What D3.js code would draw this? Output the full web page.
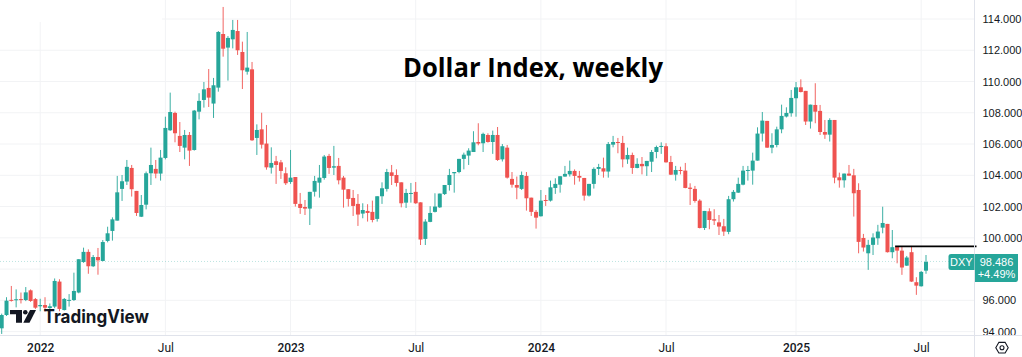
<!DOCTYPE html>
<html>
<head>
<meta charset="utf-8">
<script src="https://cdn.jsdelivr.net/npm/d3@7/dist/d3.min.js"></script>
<style>
html,body{margin:0;padding:0;background:#fff;overflow:hidden}
svg{display:block}
.tick text{fill:#131722}
</style>
</head>
<body>
<div id="chart"></div>
<script>
//weekly candles
var opens=[94.21,95.06,96.03,96.02,96.08,96.02,96.64,96.08,95.62,95.7,
95.51,95.6,97.2,95.38,95.98,96.02,96.5,98.45,99.1,98.18,
98.77,98.52,99.8,100.44,101.1,103.13,103.6,104.47,103.0,101.35,
102.12,104.13,104.41,104.11,105.11,106.88,107.99,106.52,105.77,106.58,
105.62,108.07,108.82,109.59,108.59,109.61,113.04,112.17,112.7,113.23,
111.89,110.63,110.78,106.39,106.94,106.03,104.49,104.9,104.83,104.13,
103.57,103.89,102.17,101.97,101.87,102.95,103.53,103.83,105.24,104.49,
104.6,103.85,103.11,102.55,102.17,101.55,101.72,101.66,101.21,102.66,
103.13,104.19,104.02,103.55,102.25,102.85,102.94,102.27,99.93,101.02,
101.66,101.95,102.8,103.38,104.13,104.21,105.05,105.26,105.49,106.13,
106.05,106.58,106.13,106.58,105.02,105.77,103.77,103.38,103.13,103.96,
102.57,101.66,101.38,102.42,102.38,103.19,103.4,103.92,104.06,104.28,
103.96,103.83,102.7,103.45,104.41,104.45,104.24,105.96,106.13,106.07,
105.02,105.3,104.47,104.73,104.58,104.87,105.49,105.81,105.86,104.85,
104.04,104.34,104.3,103.21,103.13,102.38,100.63,101.7,101.19,100.99,
100.74,100.38,102.47,102.89,103.4,104.3,104.3,104.94,106.67,107.48,
105.77,105.94,106.94,107.76,107.97,108.93,109.63,109.4,107.44,108.5,
108.12,106.77,106.6,107.54,103.87,103.68,104.11,104.0,103.06,99.99,
99.01,99.55,99.97,100.65,100.89,99.08,99.44,99.18,98.22,99.08,
97.16,96.9,97.9];
var closes=[95.06,95.98,95.98,96.07,96.02,96.51,95.96,95.53,95.7,95.53,
95.62,97.24,95.45,96.09,96.03,96.6,98.63,99.1,98.18,98.77,
98.56,99.73,100.29,101.18,102.91,103.62,104.54,103.11,101.59,102.1,
104.13,104.66,104.11,105.13,107.03,108.05,106.69,105.88,106.58,105.58,
108.14,108.76,109.5,108.97,109.76,113.17,112.1,112.79,113.3,112.0,
110.72,110.89,106.24,106.9,105.96,104.51,104.79,104.66,104.28,103.49,
103.85,102.17,101.91,101.87,102.94,103.64,103.85,105.2,104.47,104.58,
103.68,103.08,102.49,102.04,101.49,101.78,101.59,101.14,102.66,103.17,
104.21,103.96,103.51,102.21,102.87,102.87,102.21,99.89,101.04,101.59,
102.0,102.83,103.38,104.02,104.21,105.05,105.32,105.58,106.11,106.03,
106.65,106.13,106.58,104.98,105.86,103.85,103.4,103.21,104.02,102.53,
101.66,101.29,102.38,102.38,103.23,103.45,103.94,104.09,104.28,103.96,
103.85,102.7,103.45,104.41,104.53,104.24,106.0,106.13,106.09,105.02,
105.3,104.47,104.73,104.58,104.92,105.49,105.81,105.88,104.83,104.04,
104.34,104.28,103.19,103.13,102.36,100.63,101.72,101.14,101.1,100.72,
100.4,102.47,102.94,103.45,104.3,104.34,104.94,106.67,107.5,105.77,
105.94,106.94,107.8,107.99,108.95,109.63,109.33,107.44,108.52,108.07,
106.77,106.6,107.54,103.85,103.68,104.11,103.98,102.85,99.74,99.38,
99.55,100.02,100.4,100.95,99.08,99.4,99.18,98.1,98.74,97.2,
96.94,97.82,98.46];
var highs=[95.15,96.2,96.92,96.7,96.5,96.85,96.7,96.15,96.1,96.2,
95.8,97.4,97.35,96.15,96.4,97.77,98.63,99.37,99.26,98.9,
99.35,99.86,100.71,101.31,103.96,104.02,104.98,104.66,103.0,102.74,
104.24,105.77,104.98,105.62,107.75,109.29,108.07,107.41,106.9,106.77,
108.18,109.25,109.97,110.8,110.23,113.23,114.77,112.91,113.94,113.94,
112.55,113.17,111.25,107.26,108.0,107.22,105.79,105.24,104.98,104.51,
105.62,103.89,102.87,102.42,102.94,103.96,104.66,105.3,105.37,105.88,
105.11,103.96,103.11,103.06,102.8,102.21,102.15,102.38,102.66,103.55,
104.41,104.66,104.38,103.55,103.13,103.51,103.57,102.27,101.19,102.02,
102.85,102.83,103.38,104.41,104.21,105.05,105.45,105.73,106.82,107.33,
106.73,106.69,106.86,107.09,106.0,105.94,104.21,103.92,104.24,104.21,
102.57,101.78,103.06,102.74,103.66,103.81,103.94,104.6,104.94,104.38,
104.28,103.83,103.45,104.51,104.73,105.13,106.13,106.52,106.39,106.52,
105.77,105.45,105.09,105.17,104.92,105.62,105.9,106.11,106.05,105.24,
104.6,104.55,104.79,103.49,103.32,102.47,101.72,101.89,101.83,101.46,
101.21,102.68,103.06,103.85,104.6,104.6,105.45,107.07,108.05,107.48,
106.69,107.11,108.52,108.35,109.46,109.97,110.14,109.4,108.52,109.89,
108.5,107.54,107.65,107.54,104.17,104.11,104.66,104.41,103.49,100.25,
99.87,100.29,100.83,101.99,100.89,100.5,99.44,99.44,98.84,99.48,
97.48,97.88,98.9];
var lows=[93.85,95.0,95.92,95.55,95.8,95.95,95.9,95.45,95.3,95.28,
95.3,95.5,95.3,95.35,95.6,95.96,96.45,98.4,97.7,98.13,
97.64,98.5,99.71,99.82,101.1,102.36,103.38,102.64,101.4,101.33,
101.82,103.38,103.81,103.66,105.02,106.84,106.11,105.49,105.02,104.6,
105.58,107.58,108.33,108.37,107.67,109.35,111.59,110.06,112.12,111.7,
109.52,110.44,106.2,105.3,105.71,104.36,104.11,103.45,103.77,103.38,
103.45,102.0,101.53,101.46,100.82,102.64,102.57,103.72,104.09,104.02,
103.42,101.93,102.0,101.4,100.76,101.25,101.04,100.99,101.04,102.17,
102.96,103.38,103.28,101.95,101.91,102.25,102.17,99.54,99.54,101.0,
101.62,101.91,102.74,103.02,102.89,104.13,104.38,104.66,105.49,105.92,
105.49,106.09,105.37,104.92,104.88,103.79,103.21,102.47,103.06,101.74,
101.4,100.59,101.36,102.04,102.32,102.81,102.89,103.9,103.92,103.4,
103.6,102.38,102.64,103.15,104.02,103.85,103.85,105.79,105.41,104.51,
104.73,104.09,104.45,104.06,103.96,104.21,105.09,105.37,104.81,104.02,
103.66,104.06,103.17,102.1,102.25,100.6,100.5,100.55,100.82,100.18,
100.12,100.23,102.32,102.87,103.36,103.66,103.4,104.94,106.16,105.75,
105.41,105.79,106.69,107.7,107.75,107.75,109.3,107.22,106.99,107.33,
106.58,106.33,106.16,103.49,103.21,103.21,103.95,101.36,99.01,99.12,
97.95,98.9,99.55,100.29,99.06,98.69,98.37,97.63,98.2,97.18,
96.35,96.88,97.7];

var priceTicks=[94,96,98,100,102,104,106,108,110,112,114];
var timeTickBars=[8,34,60,86,112,138,165,191];   //bar index of each time label
var timeTickLabels=["2022","Jul","2023","Jul","2024","Jul","2025","Jul"];

var lastPrice=98.486;
var resistance=99.45;
var resistanceStartBar=186;

var width=1022,height=357;
var axisX=974.5,axisY=335.5;
var green="#26a69a",red="#ef5350",gridCol="#f2f3f5",axisCol="#e0e3eb";
var font="'Liberation Sans',Arial,sans-serif";

var x=d3.scaleLinear().domain([0,opens.length-1]).range([1.7,926]);
var y=d3.scaleLinear().domain([94,114]).range([331.6,19]);

var svg=d3.select("#chart").append("svg")
	.attr("width",width)
	.attr("height",height)
	.style("background","#fff");

//grid
svg.append("g").selectAll("line").data(priceTicks).enter().append("line")
	.attr("x1",0).attr("x2",axisX)
	.attr("y1",function(d){return y(d);}).attr("y2",function(d){return y(d);})
	.attr("stroke",gridCol);
svg.append("g").selectAll("line").data(timeTickBars).enter().append("line")
	.attr("x1",function(d){return x(d);}).attr("x2",function(d){return x(d);})
	.attr("y1",0).attr("y2",axisY)
	.attr("stroke",gridCol);
//the corner is blanked out in the picture
svg.append("rect").attr("x",0).attr("y",0).attr("width",162).attr("height",22).attr("fill","#fff");

//last price dotted line
svg.append("line")
	.attr("x1",0).attr("x2",axisX)
	.attr("y1",y(lastPrice)).attr("y2",y(lastPrice))
	.attr("stroke",green).attr("stroke-opacity",0.3)
	.attr("stroke-dasharray","1 2");

//candles
var bars=d3.range(opens.length);
function barCol(i){return closes[i]>=opens[i]?green:red;}

svg.append("g").selectAll("line").data(bars).enter().append("line")
	.attr("x1",function(i){return x(i);}).attr("x2",function(i){return x(i);})
	.attr("y1",function(i){return y(highs[i]);}).attr("y2",function(i){return y(lows[i]);})
	.attr("stroke",barCol).attr("stroke-width",0.9);

svg.append("g").selectAll("rect").data(bars).enter().append("rect")
	.attr("x",function(i){return x(i)-2;})
	.attr("width",4)
	.attr("y",function(i){return y(Math.max(opens[i],closes[i]));})
	.attr("height",function(i){return Math.max(1,Math.abs(y(opens[i])-y(closes[i])));})
	.attr("fill",barCol);

//black level line
svg.append("line")
	.attr("x1",x(resistanceStartBar)-2).attr("x2",976.5)
	.attr("y1",y(resistance)).attr("y2",y(resistance))
	.attr("stroke","#000").attr("stroke-width",1.8);

//axes
var yAxis=d3.axisRight(y).tickValues(priceTicks.filter(function(d){return d!=98;})).tickSize(0).tickPadding(8).tickFormat(d3.format(".3f"));
var yG=svg.append("g").attr("transform","translate("+axisX+",0)").call(yAxis);
yG.select(".domain").remove();
yG.selectAll("text").style("font-family",font).style("font-size","11px");

var xAxis=d3.axisBottom(x).tickValues(timeTickBars).tickSize(0).tickPadding(8)
	.tickFormat(function(d,i){return timeTickLabels[i];});
var xG=svg.append("g").attr("transform","translate(0,"+axisY+")").call(xAxis);
xG.select(".domain").remove();
xG.selectAll("text").style("font-family","Roboto,sans-serif").style("font-size","12px")
	.style("font-weight",function(d,i){return timeTickLabels[i]=="Jul"?"400":"500";});

svg.append("line").attr("x1",0).attr("x2",width).attr("y1",axisY).attr("y2",axisY).attr("stroke",axisCol);
svg.append("line").attr("x1",axisX).attr("x2",axisX).attr("y1",0).attr("y2",height).attr("stroke",axisCol);

//price tags
svg.append("path")
	.attr("d","M974.5 254H951a2.5 2.5 0 0 0 -2.5 2.5V267.5a2.5 2.5 0 0 0 2.5 2.5H974.5Z")
	.attr("fill",green);
svg.append("path")
	.attr("d","M975 254H1018V279.5a2.5 2.5 0 0 1 -2.5 2.5H975Z")
	.attr("fill",green);
svg.append("text").attr("x",961.3).attr("y",266).attr("text-anchor","middle")
	.style("font-family",font).style("font-size","11px").attr("fill","#fff").text("DXY");
svg.append("text").attr("x",996.5).attr("y",266).attr("text-anchor","middle")
	.style("font-family",font).style("font-size","11px").attr("fill","#fff").text("98.486");
svg.append("text").attr("x",996.5).attr("y",278).attr("text-anchor","middle")
	.style("font-family",font).style("font-size","11px").attr("fill","#fff").text("+4.49%");

//title
svg.append("text")
	.attr("x",403).attr("y",76.5)
	.attr("textLength",260).attr("lengthAdjust","spacingAndGlyphs")
	.style("font-family","'Open Sans',sans-serif").style("font-weight","700").style("font-size","27px")
	.attr("fill","#000")
	.text("Dollar Index, weekly");

//TradingView logo
var logo=svg.append("g").attr("fill","#131722");
logo.append("path").attr("d","M10 310H22V322.7H16V314.3H10Z");
logo.append("circle").attr("cx",25.3).attr("cy",312.3).attr("r",2.3);
logo.append("path").attr("d","M30 310H36L29.5 322.7H23.3Z");
logo.append("text")
	.attr("x",43.5).attr("y",322.7)
	.attr("textLength",105.5).attr("lengthAdjust","spacingAndGlyphs")
	.style("font-family","Inter,sans-serif").style("font-weight","700").style("font-size","18.5px")
	.text("TradingView");

//settings icon
var hex=d3.range(6).map(function(i){
	var a=Math.PI/3*i;
	return [1002+6.2*Math.cos(a),347.7+6.2*Math.sin(a)];
});
svg.append("path")
	.attr("d",d3.line().curve(d3.curveLinearClosed)(hex))
	.attr("fill","none").attr("stroke","#131722").attr("stroke-width",1.1);
svg.append("circle").attr("cx",1002).attr("cy",347.7).attr("r",2)
	.attr("fill","none").attr("stroke","#131722").attr("stroke-width",1.1);
</script>
</body>
</html>
